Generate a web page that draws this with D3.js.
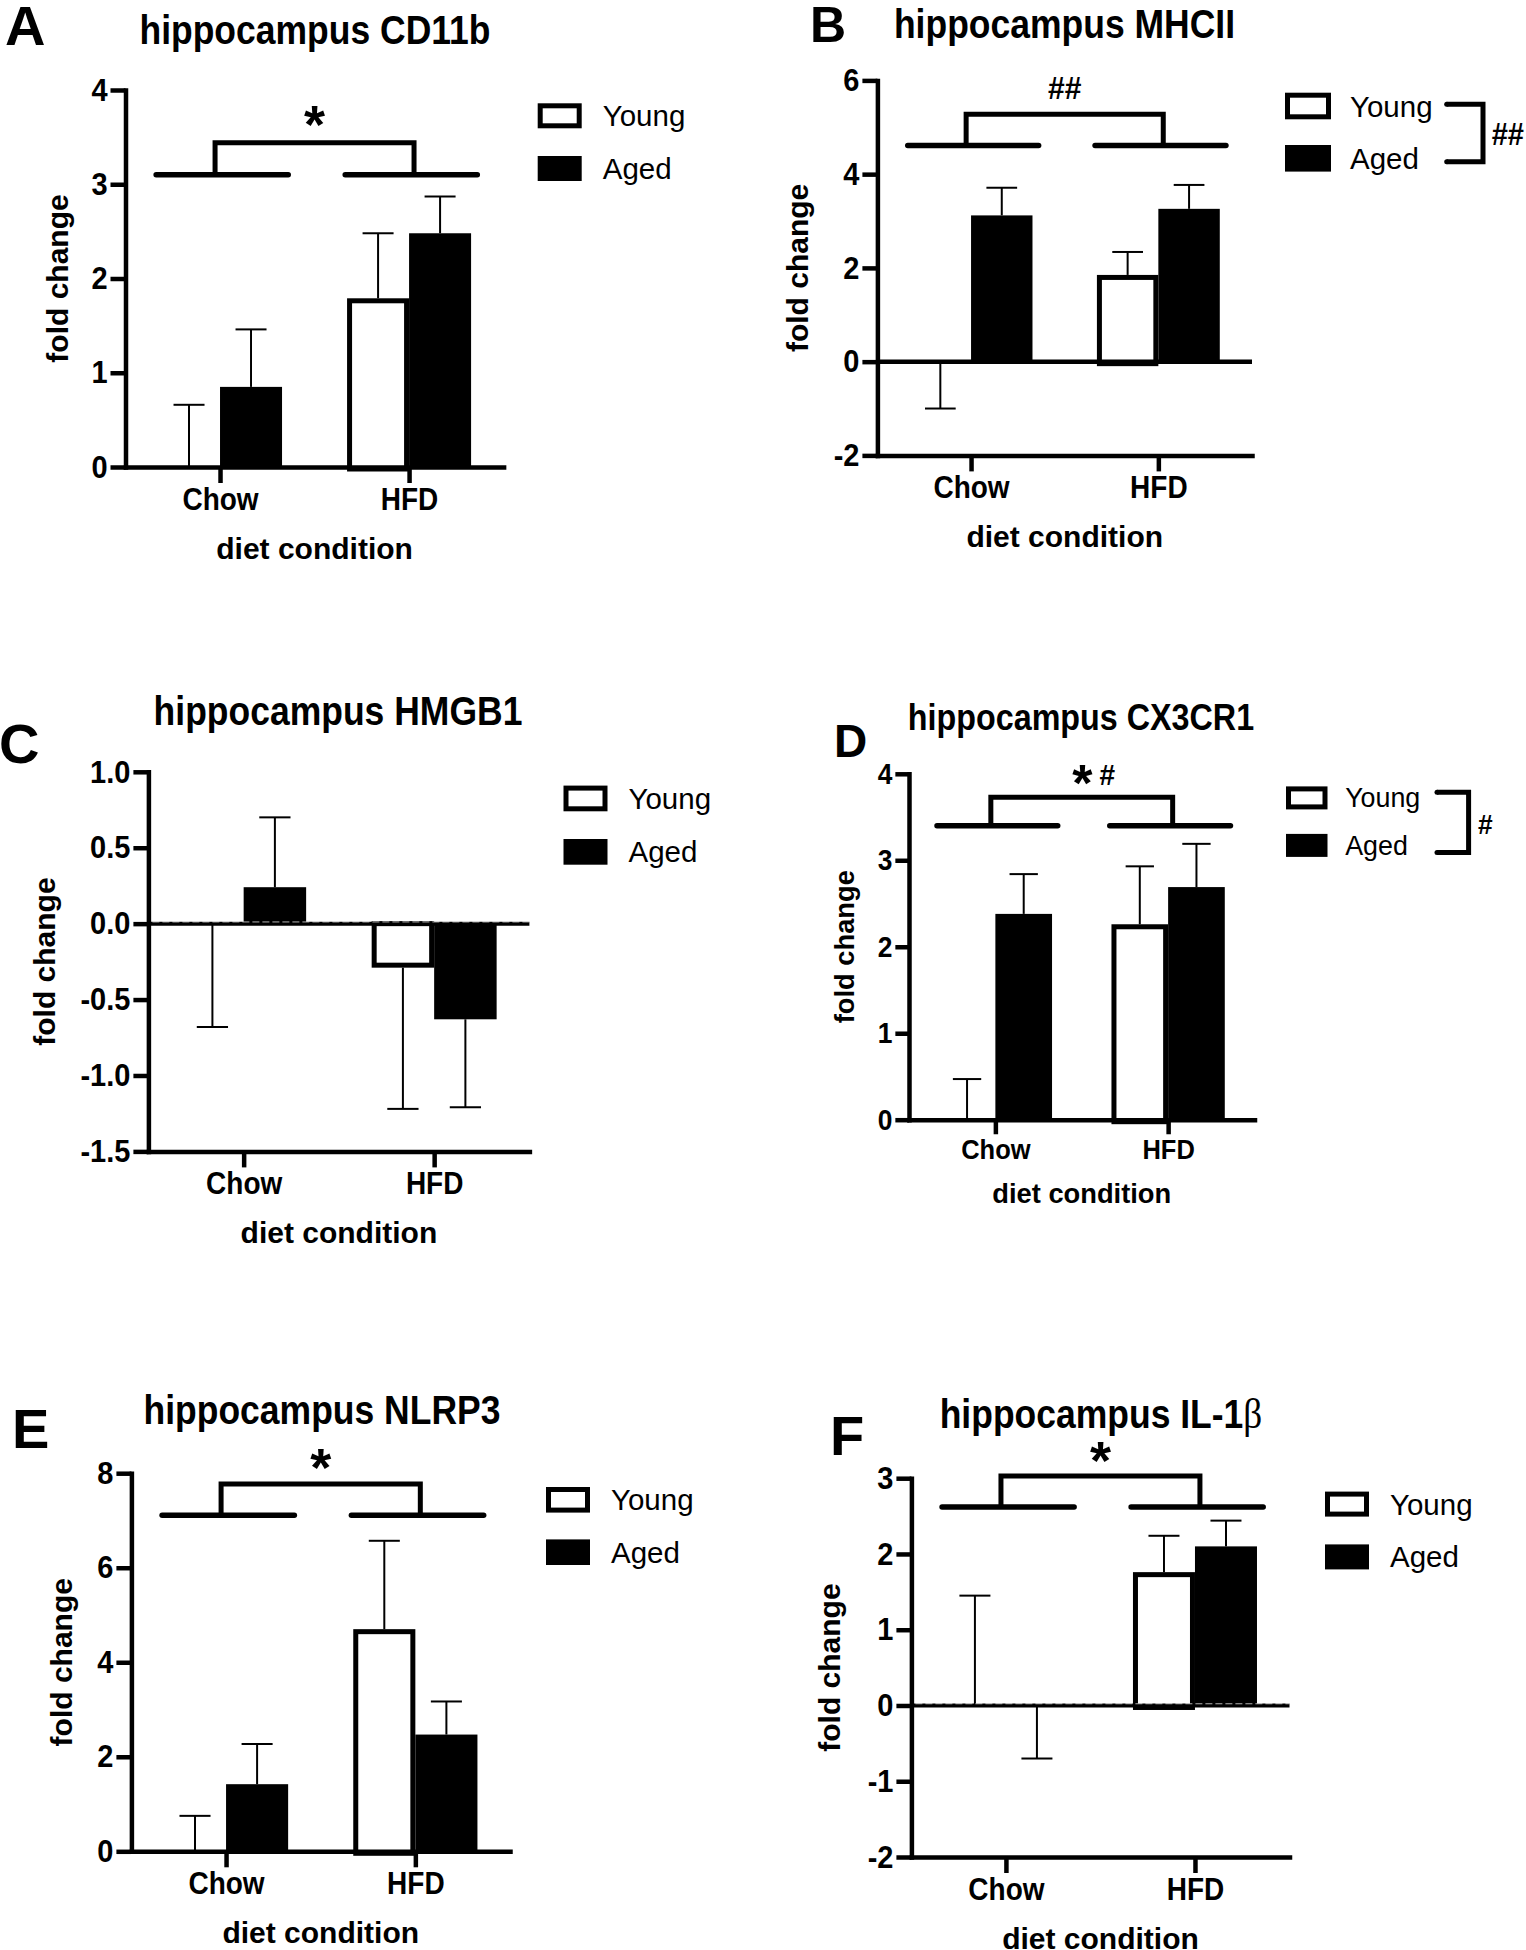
<!DOCTYPE html>
<html><head><meta charset="utf-8">
<script src="https://cdn.jsdelivr.net/npm/d3@7"></script>
<style>body{margin:0;background:#fff}</style>
</head><body>
<svg id="c" width="1526" height="1950" xmlns="http://www.w3.org/2000/svg"></svg>
<script>
// ---------------- DATA ----------------
const categories = ["Chow", "HFD"];
const seriesNames = ["Young", "Aged"];

// values: bar means; *Err: end value of error bar
const cd11bYoung = [0, 1.79], cd11bYoungErr = [0.66, 2.48];
const cd11bAged = [0.85, 2.48], cd11bAgedErr = [1.46, 2.87];
const cd11bTicks = [0, 1, 2, 3, 4];

const mhciiYoung = [0, 1.85], mhciiYoungErr = [-1.0, 2.34];
const mhciiAged = [3.12, 3.26], mhciiAgedErr = [3.71, 3.77];
const mhciiTicks = [-2, 0, 2, 4, 6];

const hmgb1Young = [0, -0.29], hmgb1YoungErr = [-0.68, -1.22];
const hmgb1Aged = [0.24, -0.63], hmgb1AgedErr = [0.70, -1.21];
const hmgb1Ticks = [-1.5, -1.0, -0.5, 0.0, 0.5, 1.0];

const cx3cr1Young = [0, 2.26], cx3cr1YoungErr = [0.47, 2.93];
const cx3cr1Aged = [2.38, 2.69], cx3cr1AgedErr = [2.84, 3.19];
const cx3cr1Ticks = [0, 1, 2, 3, 4];

const nlrp3Young = [0, 4.70], nlrp3YoungErr = [0.75, 6.57];
const nlrp3Aged = [1.42, 2.47], nlrp3AgedErr = [2.27, 3.17];
const nlrp3Ticks = [0, 2, 4, 6, 8];

const il1bYoung = [0, 1.76], il1bYoungErr = [1.45, 2.24];
const il1bAged = [0, 2.10], il1bAgedErr = [-0.70, 2.44];
const il1bTicks = [-2, -1, 0, 1, 2, 3];

// significance brackets: [line level, top level, label, label level]
const cd11bSig = [3.1, 3.44, "*", 3.72];
const mhciiSig = [4.61, 5.28, "##", 5.84];
const cx3cr1Sig = [3.40, 3.73, "*#", 3.99];
const nlrp3Sig = [7.11, 7.77, "*", 8.3];
const il1bSig = [2.62, 3.03, "*", 3.35];

// ---------------- LAYOUT ----------------
const loc = d3.formatLocale({decimal: ".", thousands: ",", grouping: [3], currency: ["", ""], minus: "-"});
const fInt = loc.format("d"), fOne = loc.format(".1f");

const panels = [
  {letter:"A", title:"hippocampus CD11b", young:cd11bYoung, youngErr:cd11bYoungErr, aged:cd11bAged, agedErr:cd11bAgedErr,
   ticks:cd11bTicks, fmt:fInt, sig:cd11bSig, zero:null,
   ax:125.5, xe:503.6, yt:90, yb:467, fs:1,
   lab:{x:5, y:45, s:56}, tit:{x:315, y:44, s:35.5}, ylabDx:-58,
   leg:{x:537.7, y:103.3, gap:52.7, w:44, h:25}, sigDx:0},
  {letter:"B", title:"hippocampus MHCII", young:mhciiYoung, youngErr:mhciiYoungErr, aged:mhciiAged, agedErr:mhciiAgedErr,
   ticks:mhciiTicks, fmt:fInt, sig:mhciiSig, zero:"solid",
   ax:877.4, xe:1252, yt:80.4, yb:455.4, fs:1,
   lab:{x:810, y:42, s:50}, tit:{x:1064.5, y:38, s:35.5}, ylabDx:-69,
   leg:{x:1285, y:92.7, gap:52.3, w:46, h:26.6}, sigDx:0,
   gb:{x1:1446.7, x2:1483, y1:104.3, y2:161.7, t:"##", tx:1491.7, ty:145}},
  {letter:"C", title:"hippocampus HMGB1", young:hmgb1Young, youngErr:hmgb1YoungErr, aged:hmgb1Aged, agedErr:hmgb1AgedErr,
   ticks:hmgb1Ticks, fmt:fOne, sig:null, zero:"dashed",
   ax:148.4, xe:529.4, yt:771.8, yb:1151.4, fs:1,
   lab:{x:-1, y:763, s:56}, tit:{x:338, y:725, s:35.5}, ylabDx:-93,
   leg:{x:563.5, y:785.6, gap:53.4, w:44, h:25.7}, sigDx:0},
  {letter:"D", title:"hippocampus CX3CR1", young:cx3cr1Young, youngErr:cx3cr1YoungErr, aged:cx3cr1Aged, agedErr:cx3cr1AgedErr,
   ticks:cx3cr1Ticks, fmt:fInt, sig:cx3cr1Sig, zero:null,
   ax:909, xe:1254.5, yt:773.8, yb:1119.7, fs:0.91,
   lab:{x:834, y:757, s:46}, tit:{x:1081, y:730, s:32.3}, ylabDx:-55,
   leg:{x:1286, y:786.4, gap:47.5, w:41.5, h:23}, sigDx:12.5,
   gb:{x1:1437, x2:1468.6, y1:792.3, y2:852.4, t:"#", tx:1478, ty:834}},
  {letter:"E", title:"hippocampus NLRP3", young:nlrp3Young, youngErr:nlrp3YoungErr, aged:nlrp3Aged, agedErr:nlrp3AgedErr,
   ticks:nlrp3Ticks, fmt:fInt, sig:nlrp3Sig, zero:null,
   ax:131.4, xe:510, yt:1473.2, yb:1851.3, fs:1,
   lab:{x:12, y:1448, s:56}, tit:{x:322, y:1424, s:35.5}, ylabDx:-59.4,
   leg:{x:546, y:1487, gap:52.4, w:44, h:25.6}, sigDx:0},
  {letter:"F", title:"hippocampus IL-1", beta:true, young:il1bYoung, youngErr:il1bYoungErr, aged:il1bAged, agedErr:il1bAgedErr,
   ticks:il1bTicks, fmt:fInt, sig:il1bSig, zero:"dashed",
   ax:911.4, xe:1289.5, yt:1478.2, yb:1857, fs:1,
   lab:{x:830, y:1455, s:56}, tit:{x:1101, y:1428, s:35.5}, ylabDx:-71,
   leg:{x:1325, y:1491.6, gap:52.8, w:44, h:25}, sigDx:0}
];

const FONT = "'Liberation Sans', Arial, Helvetica, sans-serif";
const svg = d3.select("#c");

function txt(g, x, y, s, o) {
  o = o || {};
  const t = g.append("text")
    .attr("transform", `translate(${x},${y})` + (o.rot ? ` rotate(${o.rot})` : "") + ` scale(1,${o.sy || 1})`)
    .attr("font-family", o.family || FONT)
    .attr("font-size", o.size || 30)
    .attr("font-weight", o.weight || "bold")
    .attr("text-anchor", o.anchor || "start")
    .attr("fill", "#000");
  if (s !== null) t.text(s);
  return t;
}

panels.forEach(p => {
  const g = svg.append("g");
  const fs = p.fs;
  const dom = [p.ticks[0], p.ticks[p.ticks.length - 1]];
  const y = d3.scaleLinear().domain(dom).range([p.yb, p.yt]);
  const x = d3.scalePoint().domain(categories).range([p.ax, p.xe]).padding(0.5);
  const w = 0.164 * (p.xe - p.ax);
  const lw = 4.5;

  const rows = categories.map((c, i) => ({c, i}));
  // aged (filled)
  rows.forEach(r => {
    const v = p.aged[r.i];
    const cx = x(r.c);
    if (Math.abs(v) > 0.005) {
      g.append("rect").attr("x", cx).attr("width", w)
        .attr("y", Math.min(y(v), y(0))).attr("height", Math.abs(y(v) - y(0)))
        .attr("fill", "#000");
    }
  });
  // young (outlined)
  rows.forEach(r => {
    const v = p.young[r.i];
    const cx = x(r.c);
    if (Math.abs(v) > 0.005) {
      const top = v > 0 ? y(v) + 2.5 : y(0);
      const bot = v > 0 ? y(0) + 2 : y(v) - 2.5;
      g.append("rect").attr("x", cx - w + 2.5).attr("width", w - 5)
        .attr("y", top).attr("height", bot - top)
        .attr("fill", "#fff").attr("stroke", "#000").attr("stroke-width", 5);
    }
  });
  // error bars
  const errs = [];
  rows.forEach(r => {
    errs.push({xc: x(r.c) - w / 2, m: p.young[r.i], e: p.youngErr[r.i]});
    errs.push({xc: x(r.c) + w / 2, m: p.aged[r.i], e: p.agedErr[r.i]});
  });
  errs.forEach(d => {
    g.append("line").attr("x1", d.xc).attr("x2", d.xc).attr("y1", y(d.m)).attr("y2", y(d.e))
      .attr("stroke", "#000").attr("stroke-width", 2);
    g.append("line").attr("x1", d.xc - w / 4).attr("x2", d.xc + w / 4).attr("y1", y(d.e)).attr("y2", y(d.e))
      .attr("stroke", "#000").attr("stroke-width", 2);
  });

  // zero line
  if (p.zero) {
    g.append("line").attr("x1", p.ax).attr("x2", p.xe).attr("y1", y(0)).attr("y2", y(0))
      .attr("stroke", "#000").attr("stroke-width", p.zero === "solid" ? lw : 4);
    if (p.zero === "dashed") {
      g.append("line").attr("x1", p.ax + 4).attr("x2", p.xe).attr("y1", y(0) - 1.7).attr("y2", y(0) - 1.7)
        .attr("stroke", "#fff").attr("stroke-width", 0.7).attr("stroke-dasharray", "7,3");
    }
  }

  // y axis
  const ya = g.append("g").attr("transform", `translate(${p.ax},0)`)
    .call(d3.axisLeft(y).tickValues(p.ticks).tickFormat(p.fmt).tickSize(15 * fs).tickSizeOuter(0).tickPadding(3));
  ya.select(".domain").attr("stroke-width", lw).attr("stroke-linecap", "square");
  ya.selectAll(".tick line").attr("stroke-width", lw);
  ya.selectAll(".tick text").attr("font-family", FONT).attr("font-weight", "bold")
    .attr("font-size", 29 * fs).attr("fill", "#000").attr("transform", "scale(1,1.1)");

  // x axis
  const xa = g.append("g").attr("transform", `translate(0,${p.yb})`)
    .call(d3.axisBottom(x).tickSize(16 * fs).tickSizeOuter(0).tickPadding(3 * fs));
  xa.select(".domain").attr("stroke-width", lw).attr("stroke-linecap", "square");
  xa.selectAll(".tick line").attr("stroke-width", lw);
  xa.selectAll(".tick text").attr("font-family", FONT).attr("font-weight", "bold")
    .attr("font-size", 28 * fs).attr("fill", "#000").attr("transform", "scale(1,1.1)");

  // axis titles
  const midX = (p.ax + p.xe) / 2, midY = (p.yt + p.yb) / 2;
  txt(g, midX, p.yb + 92 * fs, "diet condition", {size: 30 * fs, anchor: "middle"});
  txt(g, p.ax + p.ylabDx, midY, "fold change", {size: 30 * fs, anchor: "middle", rot: -90});

  // title
  const tt = txt(g, p.tit.x, p.tit.y, p.title, {size: p.tit.s, anchor: "middle", sy: 1.15});
  if (p.beta) {
    tt.append("tspan").attr("font-family", "'Liberation Serif', 'Times New Roman', serif")
      .attr("font-weight", "normal").attr("font-size", p.tit.s * 1.05).text("β");
  }
  // panel letter
  txt(g, p.lab.x, p.lab.y, p.letter, {size: p.lab.s});

  // significance bracket
  if (p.sig) {
    const [lv, tv, lbl, lblv] = p.sig;
    const c0 = x(categories[0]), c1 = x(categories[1]);
    [c0, c1].forEach(c => {
      g.append("line").attr("x1", c - 1.03 * w).attr("x2", c + 1.1 * w).attr("y1", y(lv)).attr("y2", y(lv))
        .attr("stroke", "#000").attr("stroke-width", 5.5).attr("stroke-linecap", "round");
    });
    const bx0 = c0 - 0.08 * w, bx1 = c1 + 0.08 * w;
    g.append("path").attr("d", `M${bx0},${y(lv)}V${y(tv)}H${bx1}V${y(lv)}`)
      .attr("fill", "none").attr("stroke", "#000").attr("stroke-width", 5);
    const cx = (bx0 + bx1) / 2 + p.sigDx, cy = y(lblv);
    const hasStar = lbl.includes("*"), hasHash = lbl.includes("#");
    if (hasStar && hasHash) {
      txt(g, cx - 12, cy + 0.5 * 52, "*", {size: 52, anchor: "middle"});
      txt(g, cx + 13, cy + 0.36 * 28, "#", {size: 28, anchor: "middle", sy: 1.05});
    } else if (hasStar) {
      txt(g, cx, cy + 0.5 * 54, lbl, {size: 54, anchor: "middle"});
    } else {
      txt(g, cx, cy + 0.36 * 30, lbl, {size: 30, anchor: "middle", sy: 1.05});
    }
  }

  // legend
  const L = p.leg;
  seriesNames.forEach((s, i) => {
    const by = L.y + i * L.gap;
    if (i === 0) {
      g.append("rect").attr("x", L.x + 2.5).attr("y", by + 2.5).attr("width", L.w - 5).attr("height", L.h - 5)
        .attr("fill", "#fff").attr("stroke", "#000").attr("stroke-width", 5);
    } else {
      g.append("rect").attr("x", L.x).attr("y", by).attr("width", L.w).attr("height", L.h).attr("fill", "#000");
    }
    txt(g, L.x + 65 * fs, by + L.h / 2 + 10.5 * fs, s, {size: 29.5 * fs, weight: "normal"});
  });
  if (p.gb) {
    const b = p.gb;
    g.append("path").attr("d", `M${b.x1},${b.y1}H${b.x2}V${b.y2}H${b.x1}`)
      .attr("fill", "none").attr("stroke", "#000").attr("stroke-width", 5).attr("stroke-linejoin", "miter");
    g.append("circle").attr("cx", b.x1).attr("cy", b.y1).attr("r", 2.5);
    g.append("circle").attr("cx", b.x1).attr("cy", b.y2).attr("r", 2.5);
    txt(g, b.tx, b.ty, b.t, {size: 29 * fs, sy: 1.05});
  }
});
</script>
</body></html>
